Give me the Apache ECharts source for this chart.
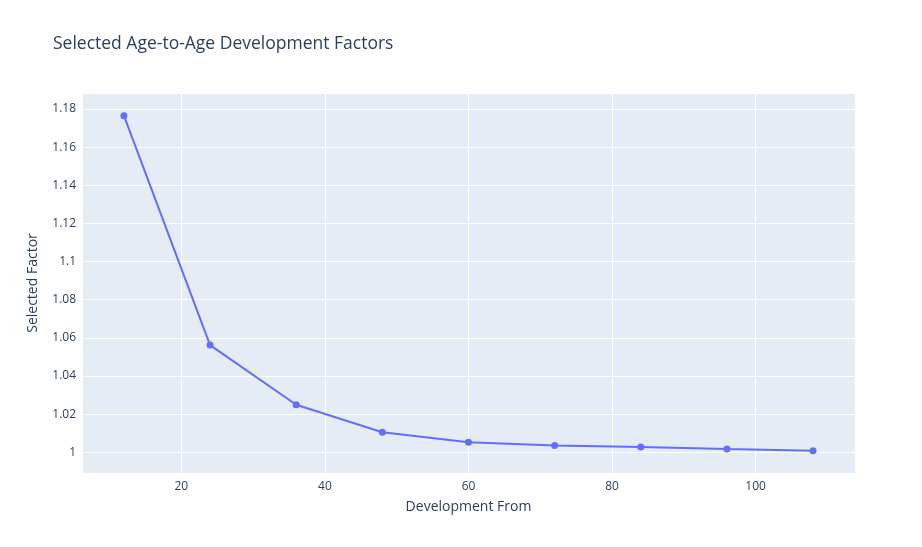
<!DOCTYPE html>
<html>
<head>
<meta charset="utf-8">
<script src="https://cdn.jsdelivr.net/npm/echarts@6/dist/echarts.min.js"></script>
<style>
  html,body{margin:0;padding:0;background:#fff;}
  #chart{width:922px;height:547px;}
</style>
</head>
<body>
<div id="chart"></div>
<script>
// development ages (months) and selected factors
let devFrom=[12,24,36,48,60,72,84,96,108];
let selFactor=[1.1765,1.0562,1.0249,1.0105,1.0052,1.0035,1.0027,1.0017,1.0008];

let fontFam='"Open Sans", verdana, arial, sans-serif';
let textCol='#2a3f5f';

let chart=echarts.init(document.getElementById('chart'));
let option={
	backgroundColor:'#fff',
	animation:false,
	title:{
		text:'Selected Age-to-Age Development Factors',
		left:48,
		top:30,
		textStyle:{fontFamily:fontFam,fontSize:17.5,fontWeight:'normal',color:textCol}
	},
	grid:{left:82,right:67,top:93,bottom:74,containLabel:false,
		show:true,backgroundColor:'#E5ECF6',borderWidth:0},
	xAxis:{
		type:'value',
		min:6.16,
		max:113.84,
		splitNumber:5,
		name:'Development From',
		nameLocation:'middle',
		nameGap:27,
		nameTextStyle:{fontFamily:fontFam,fontSize:14,color:textCol},
		axisLine:{show:false},
		axisTick:{show:false},
		axisLabel:{fontFamily:fontFam,fontSize:12,color:textCol,margin:8,
			showMinLabel:false,showMaxLabel:false},
		splitLine:{lineStyle:{color:'#fff',width:1}}
	},
	yAxis:{
		type:'value',
		min:0.9891,
		max:1.1884,
		splitNumber:10,
		name:'Selected Factor',
		nameLocation:'middle',
		nameGap:42,
		nameTextStyle:{fontFamily:fontFam,fontSize:14,color:textCol},
		axisLine:{show:false},
		axisTick:{show:false},
		axisLabel:{fontFamily:fontFam,fontSize:12,color:textCol,margin:6,
			showMinLabel:false,showMaxLabel:false,
			formatter:function(v){return String(+v.toFixed(4));}},
		splitLine:{lineStyle:{color:'#fff',width:1}}
	},
	series:[{
		type:'line',
		data:devFrom.map(function(x,i){return [x,selFactor[i]];}),
		symbol:'circle',
		symbolSize:7,
		lineStyle:{color:'#636efa',width:2},
		itemStyle:{color:'#636efa'}
	}]
};
chart.setOption(option);
</script>
</body>
</html>
